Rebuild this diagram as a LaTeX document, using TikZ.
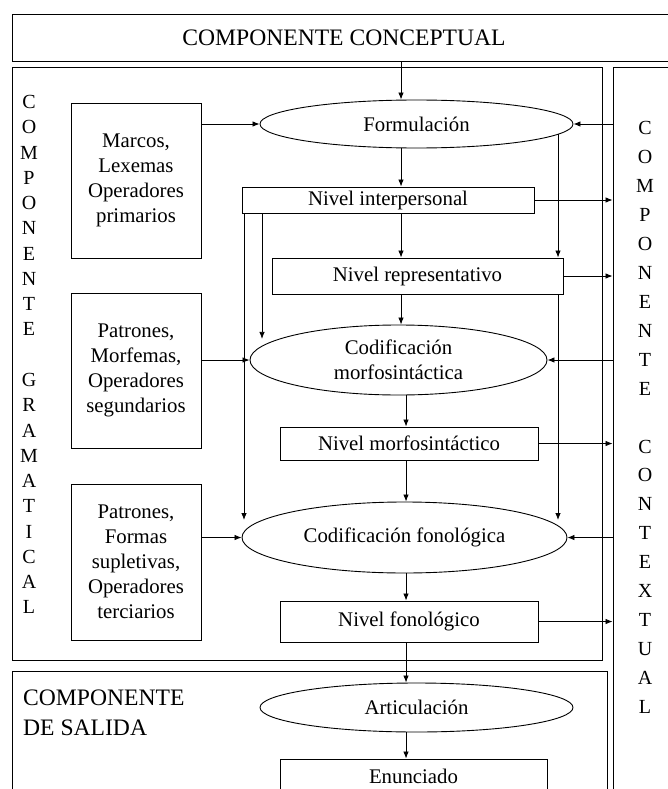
\documentclass[tikz,border=0pt]{standalone}
\usepackage{fontspec}
\setmainfont{Liberation Serif}
\usetikzlibrary{shapes.geometric, arrows.meta}

\begin{document}
\begin{tikzpicture}[x=1pt, y=-1pt, >={Latex[length=7pt, width=5.5pt]},
  every node/.style={font=\fontsize{20.8}{25}\selectfont, inner sep=0pt},
  caja/.style={draw, line width=0.9pt, rectangle, align=center},
  elipse/.style={draw, line width=0.9pt, ellipse, align=center},
  flecha/.style={->, line width=0.8pt},
  letra/.style={font=\fontsize{20}{24}\selectfont},
  titulo/.style={font=\fontsize{23.6}{30}\selectfont}]
\useasboundingbox (0,0) rectangle (668,789);
\node[caja, titulo, minimum width=664, minimum height=47] (conc) at (344,37.5) {COMPONENTE CONCEPTUAL};
\node[caja, minimum width=590, minimum height=593] (gram) at (307,363.5) {};
\node[caja, minimum width=70, minimum height=740] (ctx) at (648,437) {};
\node[caja, minimum width=595, minimum height=140] (sal) at (309.5,741) {};
\foreach \l [count=\i from 0] in {C,O,M,P,O,N,E,N,T,E} \node[letra] (gA\i) at (29,{102+25.25*\i}) {\l};
\foreach \l [count=\i from 0] in {G,R,A,M,A,T,I,C,A,L} \node[letra] (gB\i) at (29,{380+25.25*\i}) {\l};
\foreach \l [count=\i from 0] in {C,O,M,P,O,N,E,N,T,E} \node[letra] (cA\i) at (645,{128+28.95*\i}) {\l};
\foreach \l [count=\i from 0] in {C,O,N,T,E,X,T,U,A,L} \node[letra] (cB\i) at (645,{446.5+28.95*\i}) {\l};
\node[titulo, anchor=north west, align=left] (saltxt) at (23,690) {COMPONENTE\\DE SALIDA};
\node[caja, minimum width=130, minimum height=155] (marcos) at (136,180.5) {Marcos,\\Lexemas\\Operadores\\primarios};
\node[caja, minimum width=130, minimum height=155] (pat1) at (136,370.5) {Patrones,\\Morfemas,\\Operadores\\segundarios};
\node[caja, minimum width=130, minimum height=156] (pat2) at (136,562) {Patrones,\\Formas\\supletivas,\\Operadores\\terciarios};
\node[elipse, minimum width=313, minimum height=48] (form) at (416.5,124) {Formulación};
\node[caja, minimum width=292, minimum height=26] (nI) at (388,200) {Nivel interpersonal};
\node[caja, minimum width=291, minimum height=36] (nR) at (417.5,276) {Nivel representativo};
\node[elipse, minimum width=297, minimum height=70] (cM) at (398.5,360) {Codificación\\morfosintáctica};
\node[caja, minimum width=258, minimum height=33] (nM) at (409,443.5) {Nivel morfosintáctico};
\node[elipse, minimum width=325, minimum height=71] (cF) at (404.5,537.5) {Codificación fonológica};
\node[caja, minimum width=258, minimum height=41] (nF) at (409,621.5) {Nivel fonológico};
\node[elipse, minimum width=313, minimum height=49] (art) at (416.5,707.5) {Articulación};
\node[caja, minimum width=267, minimum height=34] (enun) at (413.5,776) {Enunciado};
\coordinate (ejeA) at (401,0);
\coordinate (ejeB) at (406,0);
\coordinate (ladoD) at (558,0);
\coordinate (ladoI) at (244,0);
\coordinate (ladoI2) at (262,0);
\draw[flecha] (conc.south -| ejeA) -- (form.north -| ejeA);
\draw[flecha] (form.south -| ejeA) -- (nI.north -| ejeA);
\draw[flecha] (nI.south -| ejeA) -- (nR.north -| ejeA);
\draw[flecha] (nR.south -| ejeA) -- (cM.north -| ejeA);
\draw[flecha] (cM.south -| ejeB) -- (nM.north -| ejeB);
\draw[flecha] (nM.south -| ejeB) -- (cF.north -| ejeB);
\draw[flecha] (cF.south -| ejeB) -- (nF.north -| ejeB);
\draw[flecha] (nF.south -| ejeB) -- (art.north -| ejeB);
\draw[flecha] (art.south -| ejeB) -- (enun.north -| ejeB);
\draw[flecha] (ladoD |- form.-4) -- (ladoD |- nR.north);
\draw[flecha] (ladoD |- nR.south) -- (ladoD |- cF.7);
\draw[flecha] (ladoI |- nI.south) -- (ladoI |- cF.173);
\draw[flecha] (ladoI2 |- nI.south) -- (ladoI2 |- cM.170);
\draw[flecha] (marcos.east |- form.west) -- (form.west);
\draw[flecha] (pat1.east |- cM.west) -- (cM.west);
\draw[flecha] (pat2.east |- cF.west) -- (cF.west);
\draw[flecha] (ctx.west |- form.east) -- (form.east);
\draw[flecha] (ctx.west |- cM.east) -- (cM.east);
\draw[flecha] (ctx.west |- cF.east) -- (cF.east);
\draw[flecha] (nI.east) -- (nI.east -| ctx.west);
\draw[flecha] (nR.east) -- (nR.east -| ctx.west);
\draw[flecha] (nM.east) -- (nM.east -| ctx.west);
\draw[flecha] (nF.east) -- (nF.east -| ctx.west);
\end{tikzpicture}
\end{document}
